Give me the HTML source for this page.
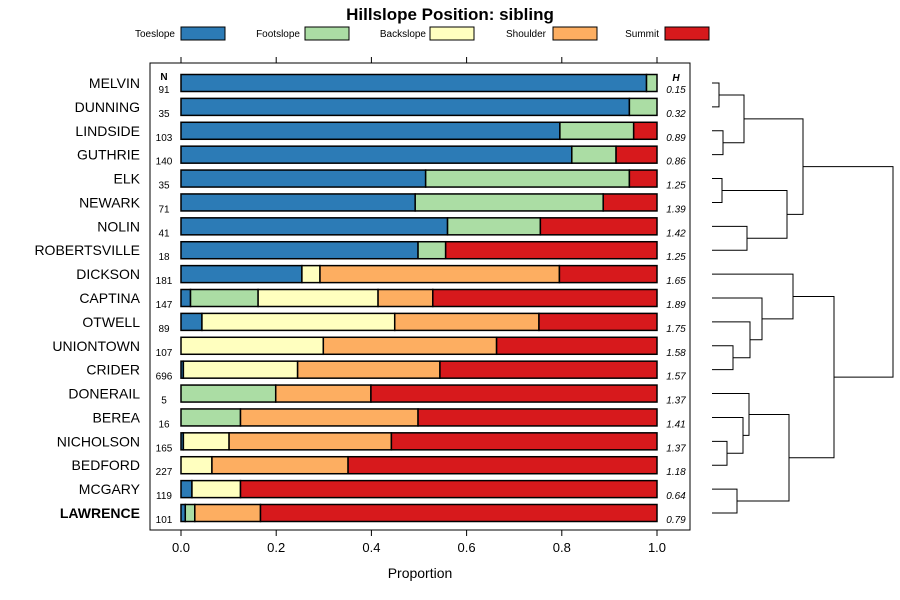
<!DOCTYPE html>
<html><head><meta charset="utf-8"><style>
body{margin:0;background:#fff;}
svg{font-family:"Liberation Sans",sans-serif;display:block;}
</style></head><body>
<svg id="chart" width="900" height="600" xmlns="http://www.w3.org/2000/svg"></svg>
<script>
const categories=["MELVIN","DUNNING","LINDSIDE","GUTHRIE","ELK","NEWARK","NOLIN","ROBERTSVILLE","DICKSON","CAPTINA","OTWELL","UNIONTOWN","CRIDER","DONERAIL","BEREA","NICHOLSON","BEDFORD","MCGARY","LAWRENCE"];
const seriesNames=["Toeslope","Footslope","Backslope","Shoulder","Summit"];
const seriesColors=["#2C7BB6","#ABDDA4","#FFFFBF","#FDAE61","#D7191C"];
const toeslope=[0.978,0.942,0.796,0.821,0.514,0.492,0.560,0.498,0.254,0.020,0.044,0,0.005,0,0,0.005,0,0.023,0.009];
const footslope=[0.022,0.058,0.155,0.093,0.428,0.395,0.195,0.058,0,0.142,0,0,0,0.199,0.125,0,0,0,0.020];
const backslope=[0,0,0,0,0,0,0,0,0.038,0.252,0.405,0.299,0.240,0,0,0.096,0.065,0.102,0];
const shoulder=[0,0,0,0,0,0,0,0,0.503,0.115,0.303,0.364,0.299,0.200,0.373,0.341,0.286,0,0.138];
const summit=[0,0,0.049,0.086,0.058,0.113,0.245,0.444,0.205,0.471,0.248,0.337,0.456,0.601,0.502,0.558,0.649,0.875,0.833];
const nValues=[91,35,103,140,35,71,41,18,181,147,89,107,696,5,16,165,227,119,101];
const hValues=["0.15","0.32","0.89","0.86","1.25","1.39","1.42","1.25","1.65","1.89","1.75","1.58","1.57","1.37","1.41","1.37","1.18","0.64","0.79"];
const xTicks=[0,0.2,0.4,0.6,0.8,1.0];
const xTickLabels=["0.0","0.2","0.4","0.6","0.8","1.0"];
// dendrogram merges: [left, right, height]; leaves are row indices, nodes "n#"
const merges=[[0,1,7],[2,3,11],["n0","n1",32],[4,5,10],[6,7,35],["n3","n4",75],["n2","n5",91],
[11,12,21],[10,"n7",38],[9,"n8",50],[8,"n9",81],[15,16,15],[14,"n11",31],[13,"n12",37],[17,18,25],["n13","n14",77],["n10","n15",122],["n6","n16",181]];

const NS="http://www.w3.org/2000/svg";
const svg=document.getElementById("chart");
function mk(tag,attrs,parent){const e=document.createElementNS(NS,tag);for(const k in attrs)e.setAttribute(k,attrs[k]);(parent||svg).appendChild(e);return e;}
const x0=181,x1=657;
const xs=v=>x0+v*(x1-x0);
const y0=83,step=(513-83)/18;
const ys=i=>y0+i*step;
const barH=17;

let t=mk("text",{x:450,y:20,"text-anchor":"middle","font-size":17,"font-weight":"bold"});


t.textContent="Hillslope Position: sibling";

const legX=[[175,181],[300,305],[426,430],[546,553],[659,665]];
seriesNames.forEach((s,i)=>{
 const tt=mk("text",{x:legX[i][0],y:37,"text-anchor":"end","font-size":10});
 
 
 tt.textContent=s;
 const r=mk("rect",{x:legX[i][1],y:27,width:44,height:13,fill:seriesColors[i],stroke:"#000","stroke-width":1});
 
 
});

const frame=mk("rect",{x:150,y:63,width:540,height:467,fill:"none",stroke:"#000","stroke-width":1});



xTicks.forEach((v,i)=>{
 const l=mk("line",{x1:xs(v),x2:xs(v),y1:57,y2:63,stroke:"#000"});
 
 
 const l2=mk("line",{x1:xs(v),x2:xs(v),y1:530,y2:536,stroke:"#000"});
 
 
 const tl=mk("text",{x:xs(v),y:552,"text-anchor":"middle","font-size":13});
 
 
 tl.textContent=xTickLabels[i];
});
t=mk("text",{x:420,y:578,"text-anchor":"middle","font-size":14});


t.textContent="Proportion";

t=mk("text",{x:164,y:80,"text-anchor":"middle","font-size":10,"font-weight":"bold"});


t.textContent="N";
t=mk("text",{x:676,y:81,"text-anchor":"middle","font-size":10,"font-weight":"bold","font-style":"italic"});


t.textContent="H";

const series=[toeslope,footslope,backslope,shoulder,summit];
categories.forEach((c,i)=>{
 const y=ys(i);
 const lab=mk("text",{x:140,y:y+5,"text-anchor":"end","font-size":14,"font-weight":c==="LAWRENCE"?"bold":"normal"});
 
 
 lab.textContent=c;
 let cum=0;
 series.forEach((arr,s)=>{
  const v=arr[i];
  if(v>0){
   const r=mk("rect",{x:xs(cum),y:y-barH/2,width:xs(cum+v)-xs(cum),height:barH,fill:seriesColors[s],stroke:"#000","stroke-width":1.5});
   
   
  }
  cum+=v;
 });
 const nt=mk("text",{x:164,y:y+10,"text-anchor":"middle","font-size":10});
 
 
 nt.textContent=nValues[i];
 const ht=mk("text",{x:676,y:y+10,"text-anchor":"middle","font-size":10,"font-style":"italic"});
 
 
 ht.textContent=hValues[i];
});

// dendrogram
const dx=h=>712+h;
const nodes=[];
function pos(k){return typeof k==="number"?{y:ys(k),h:0}:nodes[+k.slice(1)];}
merges.forEach(m=>{
 const a=pos(m[0]),b=pos(m[1]),h=m[2];
 const p=mk("path",{d:`M${dx(a.h)},${a.y}H${dx(h)}V${b.y}H${dx(b.h)}`,fill:"none",stroke:"#000","stroke-width":1});
 
 
 nodes.push({y:(a.y+b.y)/2,h:h});
});
</script>
</body></html>
